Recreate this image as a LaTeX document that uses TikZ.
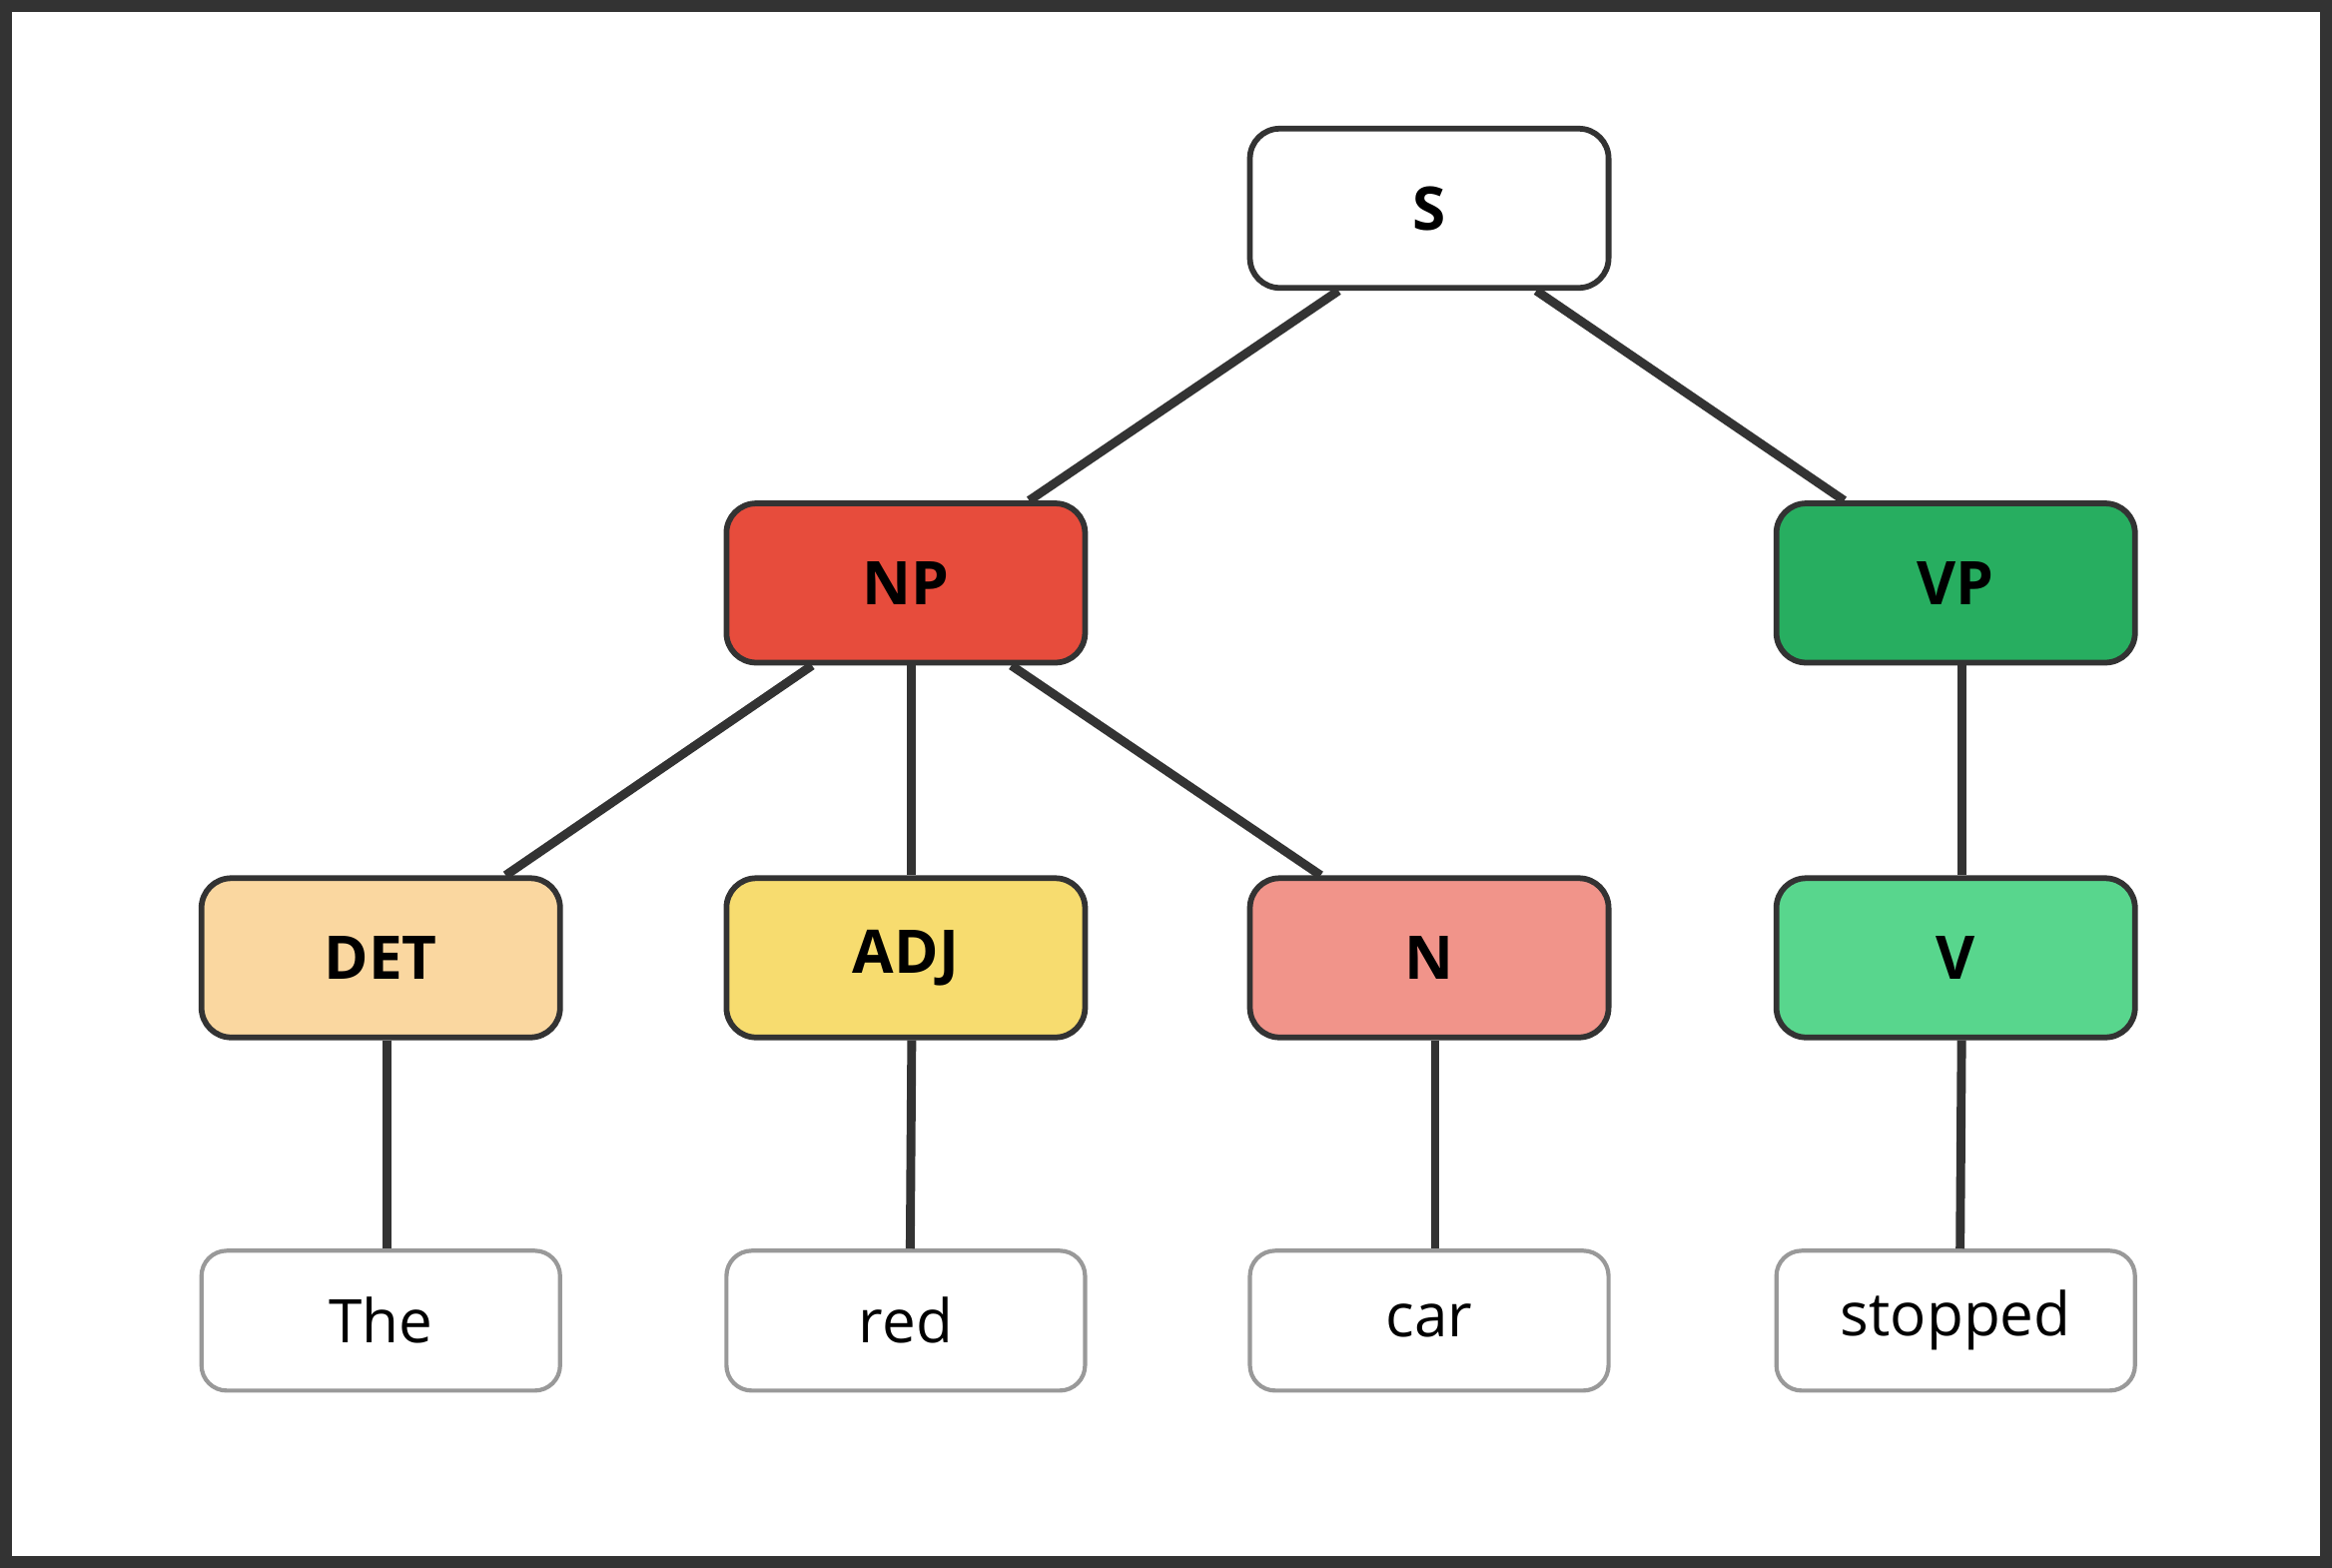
\documentclass[tikz,border=0pt]{standalone}
\usepackage{fontspec}
\setmainfont{Open Sans}
\usetikzlibrary{calc}
\definecolor{edge}{HTML}{333333}
\definecolor{leafline}{HTML}{999999}
\definecolor{npred}{HTML}{E74C3C}
\definecolor{vpgreen}{HTML}{27AE60}
\definecolor{detfill}{HTML}{FAD7A0}
\definecolor{adjfill}{HTML}{F7DC6F}
\definecolor{nfill}{HTML}{F1948A}
\definecolor{vfill}{HTML}{58D68D}
\tikzset{
  cat/.style={draw=edge, line width=1.1pt, rounded corners=0.2cm, minimum width=2.41cm,
    minimum height=1.07cm, font=\fontsize{11.5}{13}\selectfont\bfseries},
  word/.style={draw=leafline, line width=0.8pt, rounded corners=0.17cm, minimum width=2.41cm,
    minimum height=0.94cm, fill=white, font=\fontsize{11.5}{13}\selectfont},
  branch/.style={edge, line width=1.7pt}
}
\begin{document}
\begin{tikzpicture}[x=0.01cm, y=-0.01cm]
  \draw[edge, line width=2.3pt, fill=white] (4,4) rectangle (1564,1050);
  \useasboundingbox (0,0) rectangle (1568,1054);
  % phrase level
  \node[cat, fill=white] (S) at (961,140) {S};
  \node[cat, fill=npred] (NP) at (609,392) {NP};
  \node[cat, fill=vpgreen] (VP) at (1315,392) {VP};
  % word classes
  \node[cat, fill=detfill] (DET) at (256,644) {DET};
  \node[cat, fill=adjfill] (ADJ) at (609,644) {ADJ};
  \node[cat, fill=nfill] (N) at (961,644) {N};
  \node[cat, fill=vfill] (V) at (1315,644) {V};
  % words
  \node[word] (the) at (256,888) {The};
  \node[word] (red) at (609,888) {red};
  \node[word] (car) at (961,888) {car};
  \node[word] (stopped) at (1315,888) {stopped};
  % branches
  \draw[branch] ($(S.south)+(-61,0)$) -- ($(NP.north)+(83,0)$);
  \draw[branch] ($(S.south)+(72,0)$) -- ($(VP.north)+(-75,0)$);
  \draw[branch] ($(NP.south)+(-63,0)$) -- ($(DET.north)+(84,0)$);
  \draw[branch] ($(NP.south)+(4,0)$) -- ($(ADJ.north)+(4,0)$);
  \draw[branch] ($(NP.south)+(71,0)$) -- ($(N.north)+(-73,0)$);
  \draw[branch] ($(VP.south)+(4,0)$) -- ($(V.north)+(4,0)$);
  \draw[branch] ($(DET.south)+(4,0)$) -- ($(the.north)+(4,0)$);
  \draw[branch] ($(ADJ.south)+(4,0)$) -- ($(red.north)+(3,0)$);
  \draw[branch] ($(N.south)+(4,0)$) -- ($(car.north)+(4,0)$);
  \draw[branch] ($(V.south)+(4,0)$) -- ($(stopped.north)+(3,0)$);
\end{tikzpicture}
\end{document}
